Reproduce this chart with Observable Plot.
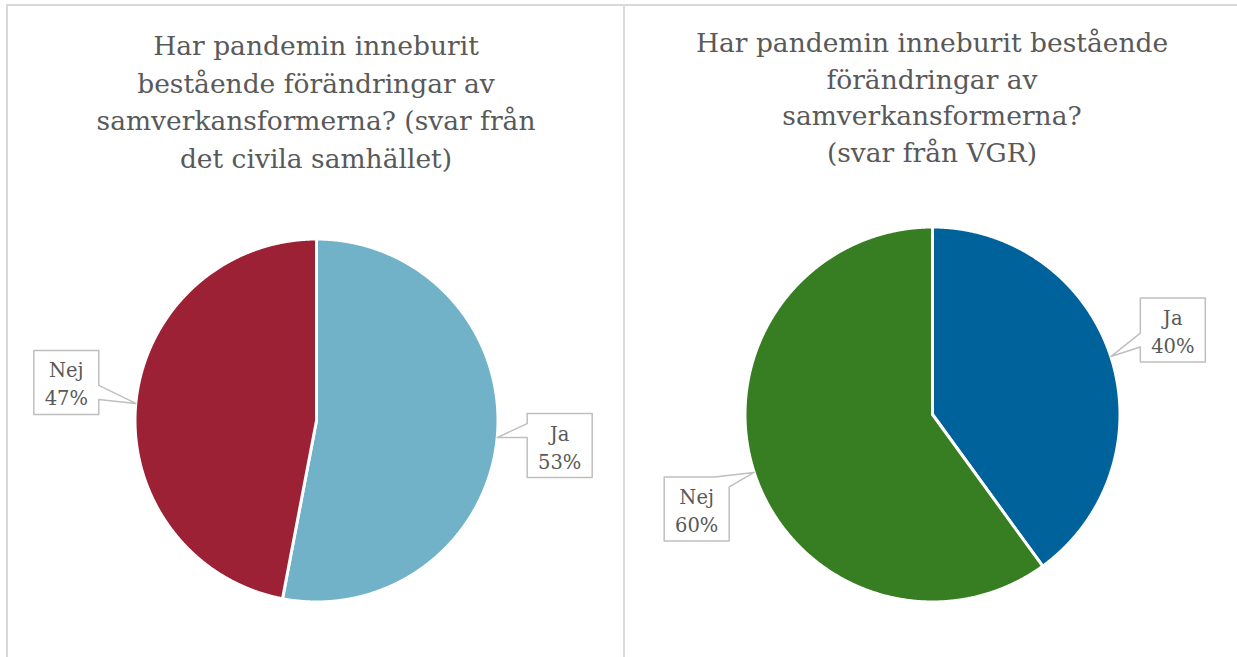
<!DOCTYPE html>
<html><head><meta charset="utf-8">
<script src="https://cdn.jsdelivr.net/npm/d3@7"></script>
<script src="https://cdn.jsdelivr.net/npm/@observablehq/plot@0.6"></script>
<style>
body{margin:0;background:#fff;}
#wrap{position:relative;width:1237px;height:657px;overflow:hidden;background:#fff;font-family:"DejaVu Serif",serif;color:#595959;}
.rule{position:absolute;background:#d9d9d9;}
.title{position:absolute;text-align:center;font-size:26.5px;line-height:37.5px;white-space:pre-line;color:#595959;font-family:"DejaVu Serif",serif;}
.chart{position:absolute;}
</style></head><body>
<div id="wrap">
  <div class="rule" style="left:6px;top:4px;width:1231px;height:2px"></div>
  <div class="rule" style="left:6px;top:4px;width:2px;height:653px"></div>
  <div class="rule" style="left:623px;top:4px;width:2px;height:653px"></div>
  <div class="title" id="t1" style="left:16px;width:600px;top:27px"></div>
  <div class="title" id="t2" style="left:632px;width:600px;top:25px;line-height:36.5px"></div>
  <div class="chart" id="c1" style="left:8px;top:190px"></div>
  <div class="chart" id="c2" style="left:625px;top:190px"></div>
</div>
<script>
const categories = ["Ja", "Nej"];
const civilValues = [53, 47];
const vgrValues = [40, 60];
const civilTitle = ["Har pandemin inneburit", "bestående förändringar av", "samverkansformerna? (svar från", "det civila samhället)"];
const vgrTitle = ["Har pandemin inneburit bestående", "förändringar av", "samverkansformerna?", "(svar från VGR)"];
const civilColors = ["#72b2c9", "#9c2135"];
const vgrColors = ["#00629b", "#377d22"];

document.getElementById("t1").textContent = civilTitle.join("\n");
document.getElementById("t2").textContent = vgrTitle.join("\n");

function pieChart({values, colors, width, height, cx, cy, r, offsets}) {
  const arcs = d3.pie().sort(null).value(d => d)(values);
  const marks = [];
  arcs.forEach((a, i) => {
    const pts = [{x: 0, y: 0}];
    const n = Math.max(4, Math.ceil((a.endAngle - a.startAngle) / 0.005));
    for (let k = 0; k <= n; k++) {
      const t = a.startAngle + (a.endAngle - a.startAngle) * k / n;
      pts.push({x: Math.sin(t), y: Math.cos(t)});
    }
    marks.push(Plot.line(pts, {x: "x", y: "y", fill: colors[i], stroke: "white", strokeWidth: 3, strokeLinejoin: "round", curve: "linear-closed"}));
  });
  const toU = (px, py) => ({x: (px - cx) / r, y: (cy - py) / r});
  const labels = [];
  arcs.forEach((a, i) => {
    const mid = (a.startAngle + a.endAngle) / 2;
    const tx = cx + r * Math.sin(mid), ty = cy - r * Math.cos(mid);
    const bx = tx + offsets[i][0], by = ty + offsets[i][1];
    const w = 65, h = 64;
    const L = bx - w / 2, R = bx + w / 2, T = by - h / 2, B = by + h / 2;
    let poly;
    if (ty < T && tx > R) {
      poly = [[L, T], [R - 15, T], [tx, ty], [R, T + 10], [R, B], [L, B]];
    } else if (tx > R) {
      const y1 = Math.max(T + 6, Math.min(ty - 14, B - 29)), y2 = y1 + 14;
      poly = [[L, T], [R, T], [R, y1], [tx, ty], [R, y2], [R, B], [L, B]];
    } else {
      const y1 = Math.max(T + 6, Math.min(ty - 14, B - 29)), y2 = y1 + 14;
      poly = [[L, T], [R, T], [R, B], [L, B], [L, y2], [tx, ty], [L, y1]];
    }
    marks.push(Plot.line(poly.map(([px, py]) => toU(px, py)), {x: "x", y: "y", fill: "white", stroke: "#bfbfbf", strokeWidth: 1.5, curve: "linear-closed"}));
    const c = toU(bx, by);
    labels.push({x: c.x, y: c.y, text: `${categories[i]}\n${values[i]}%`});
  });
  marks.push(Plot.text(labels, {x: "x", y: "y", text: "text", fontSize: 19.5, lineHeight: 1.44, fill: "#595959", fontFamily: "DejaVu Serif", textAnchor: "middle"}));
  return Plot.plot({
    width, height, margin: 0,
    x: {domain: [-1, 1], range: [cx - r, cx + r], axis: null},
    y: {domain: [-1, 1], range: [cy + r, cy - r], axis: null},
    style: {background: "transparent", overflow: "visible"},
    marks
  });
}

document.getElementById("c1").appendChild(pieChart({
  values: civilValues, colors: civilColors, width: 614, height: 467,
  cx: 308, cy: 230, r: 181.5,
  offsets: [[62.5, 8], [-69.5, -21]]
}));
document.getElementById("c2").appendChild(pieChart({
  values: vgrValues, colors: vgrColors, width: 612, height: 467,
  cx: 307, cy: 224, r: 187.5,
  offsets: [[62, -26.5], [-57.5, 36.5]]
}));
</script>
</body></html>
